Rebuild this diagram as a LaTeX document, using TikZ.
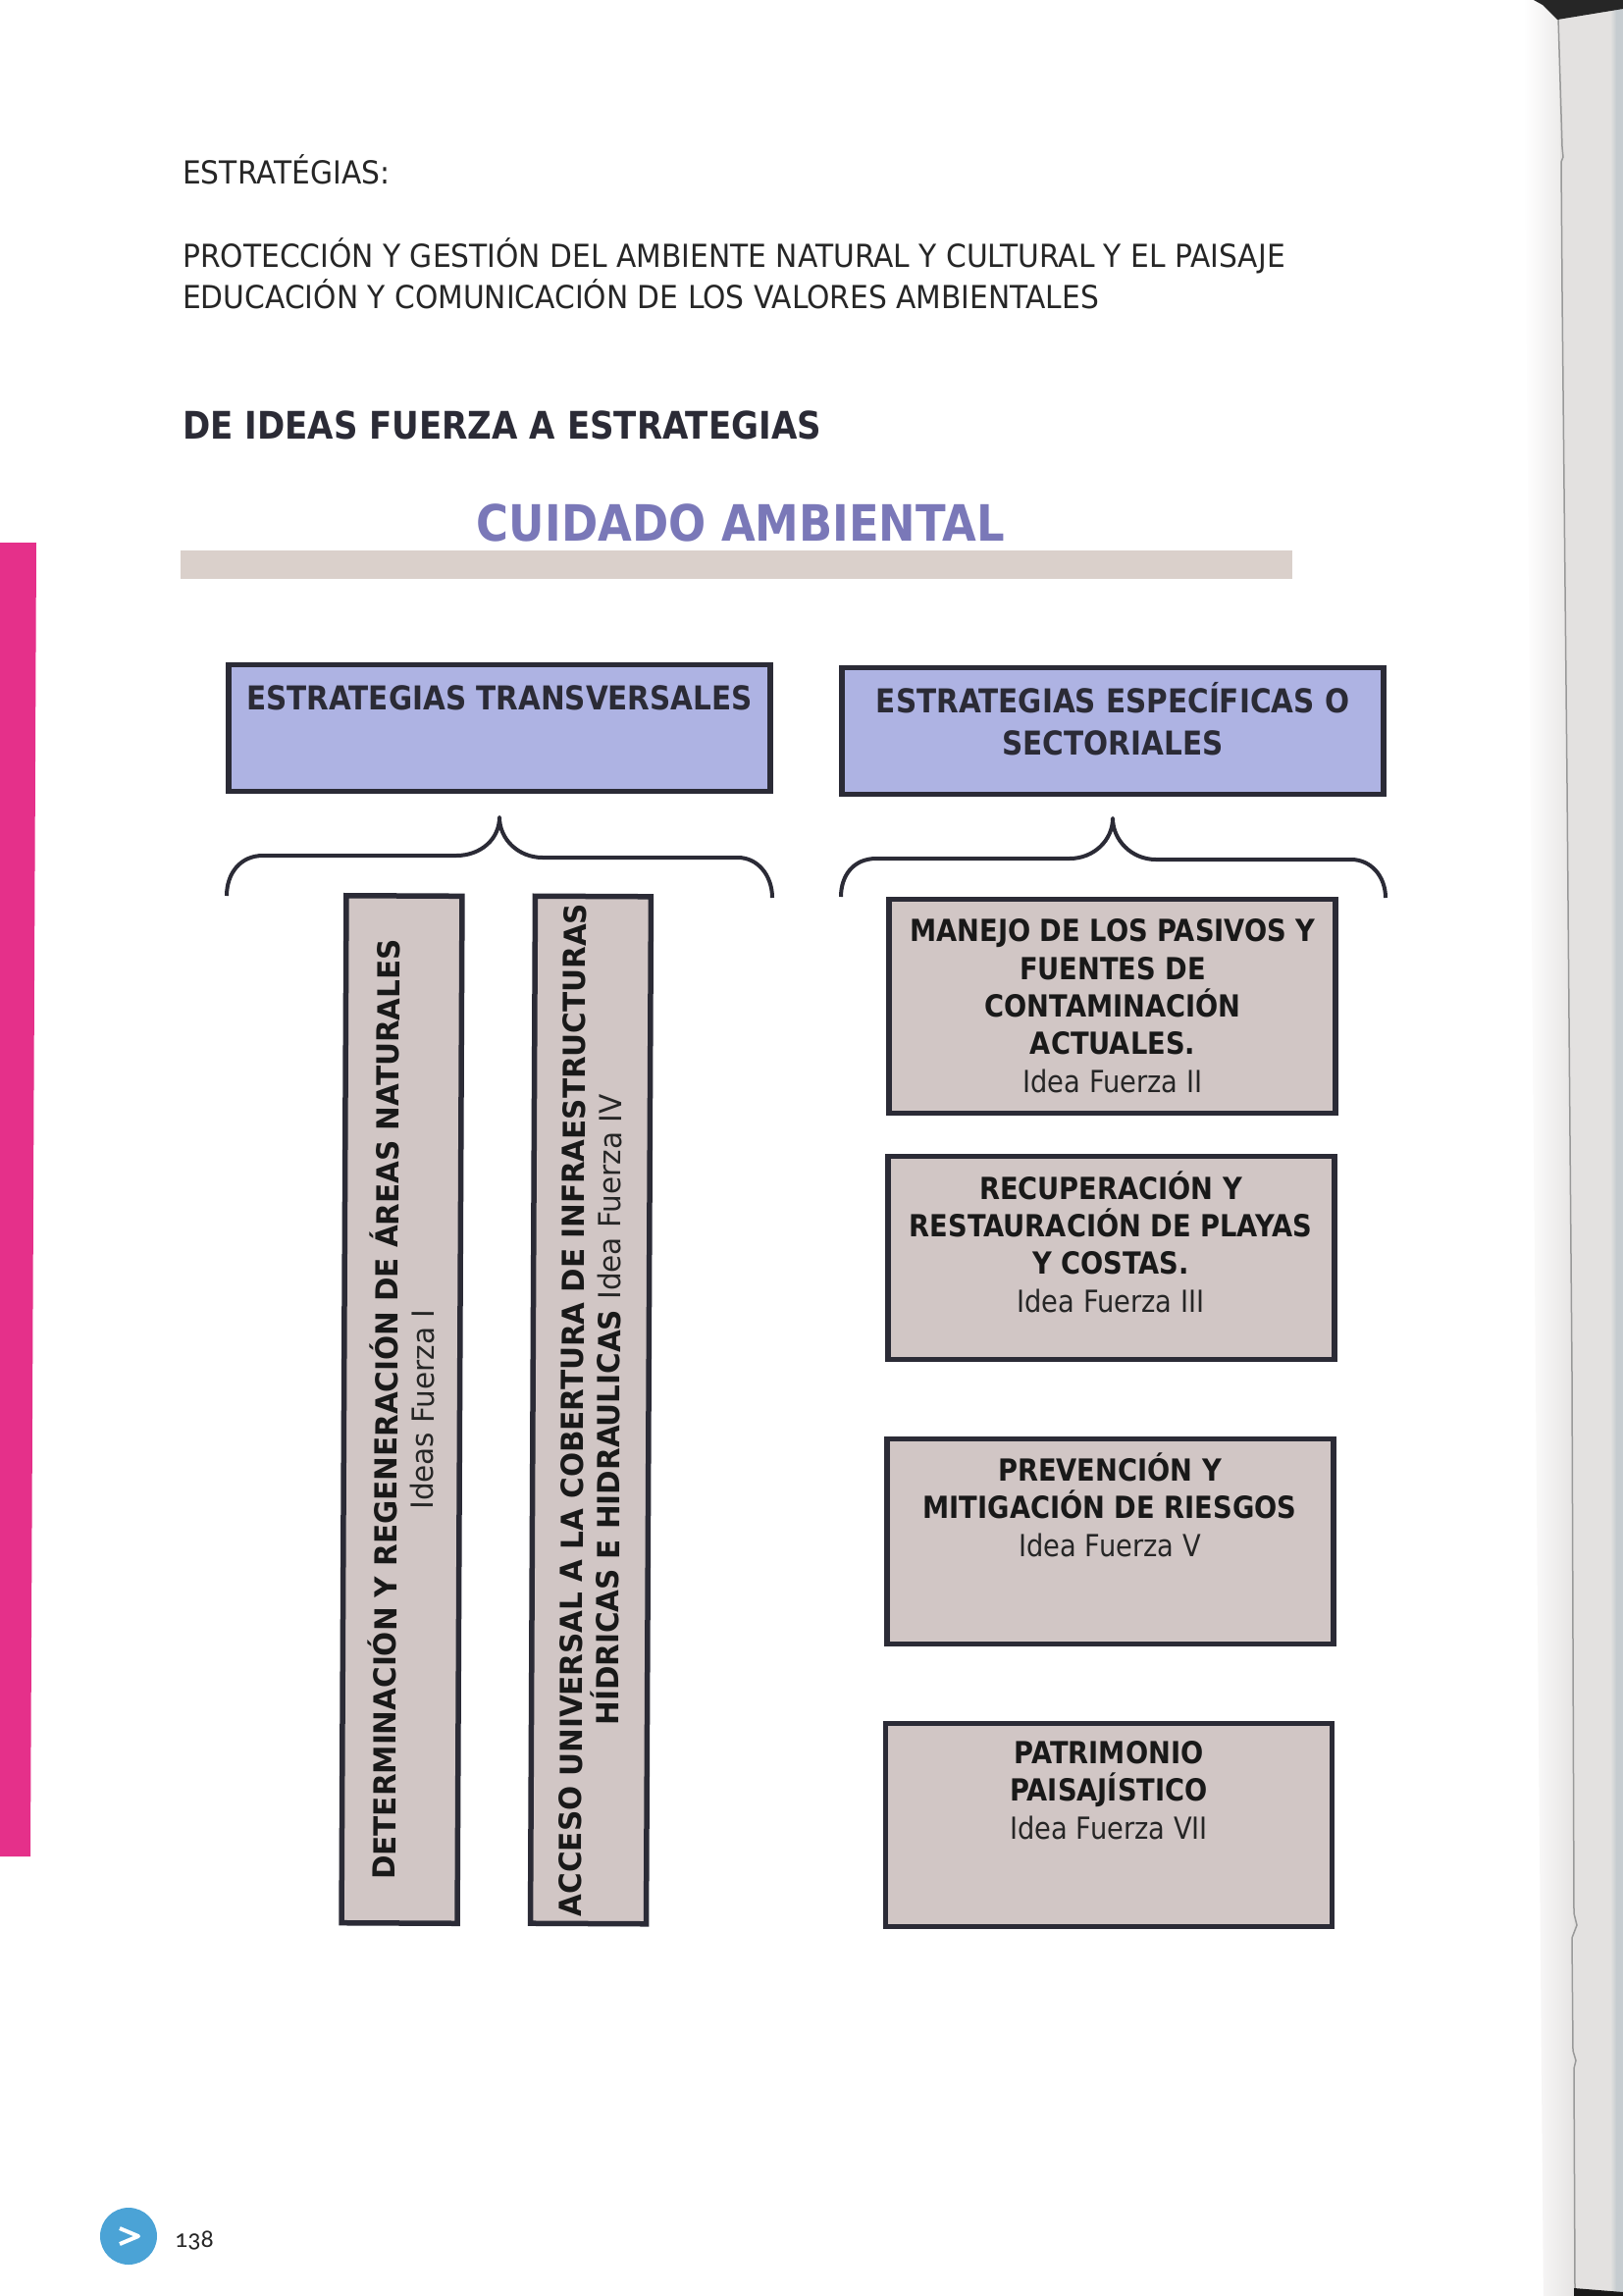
\documentclass[tikz,border=0pt]{standalone}
\usepackage{fontspec}
\setmainfont{DejaVu Sans}[FakeStretch=0.88]
\newfontfamily\widefont{DejaVu Sans}[FakeStretch=0.95]
\newfontfamily\bodyfont{DejaVu Sans}[FakeStretch=0.92]
\newfontfamily\pgfont[Numbers=OldStyle]{Carlito}
\definecolor{inkc}{HTML}{2B2B36}
\definecolor{bluec}{HTML}{AEB3E3}
\definecolor{beigec}{HTML}{D1C6C5}
\definecolor{barc}{HTML}{DAD0CB}
\definecolor{titlec}{HTML}{7A78B8}
\definecolor{pinkc}{HTML}{E5308A}
\definecolor{dotc}{HTML}{4BA3D6}
\definecolor{leafc}{HTML}{E3E1E0}
\definecolor{leafd}{HTML}{C6CCD0}
\newcommand{\idea}[1]{{\mdseries\color{black!85}#1}}
\tikzset{
  x=1pt,y=-1pt,
  bluebox/.style={draw=inkc,line width=5.5pt,fill=bluec,minimum width=552pt,minimum height=129pt,inner sep=0pt},
  greybox/.style={draw=inkc,line width=5.5pt,fill=beigec,inner sep=0pt,minimum width=455pt},
  tallbox/.style={draw=inkc,line width=5.5pt,fill=beigec,inner sep=0pt,minimum width=1047pt,minimum height=118pt,rotate=89.73,align=center,text=black!90,font=\widefont\fontsize{31}{37}\selectfont\bfseries},
  boxtext/.style={align=center,text=black!90,font=\fontsize{31}{38.3}\selectfont\bfseries,inner sep=0pt,anchor=base},
  headtext/.style={text=inkc,font=\fontsize{33.5}{43}\selectfont\bfseries,inner sep=0pt,anchor=base},
  plaintext/.style={anchor=base west,text=black!85,font=\bodyfont\fontsize{32.3}{41}\selectfont,inner sep=0pt},
  bracket/.style={draw=inkc,line width=4pt,line join=round}
}
\begin{document}
\begin{tikzpicture}
\useasboundingbox (0,0) rectangle (1654,2340);
\fill[white] (0,0) rectangle (1654,2340);
% page edge
\begin{scope}[xslant=-0.0085]
\shade[left color=white,right color=leafc] (1553,-10) rectangle (1590,2350);
\end{scope}
\fill[leafc] (1588,0) -- (1654,0) -- (1654,2340) -- (1604,2340) -- (1604,1900) -- (1602,1400) -- (1597,800) -- (1592,300) -- cycle;
\shade[left color=leafc,right color=leafd] (1641,0) rectangle (1647,2340);
\fill[leafd] (1647,0) rectangle (1654,2340);
\draw[black!40,line width=1.5pt] (1588,18) -- (1592,150) -- (1593,160) -- (1591,165) -- (1592,300) -- (1597,800) -- (1602,1400) -- (1604,1950) -- (1607,1962) -- (1602,1975) -- (1603,2090) -- (1606,2100) -- (1604,2108) -- (1605,2332);
\fill[black!85] (1563,0) -- (1572,5) -- (1587,20) -- (1654,9) -- (1654,0) -- cycle;
\fill[black!90] (1604,2332) -- (1654,2336) -- (1654,2340) -- (1604,2340) -- cycle;
% pink bar
\fill[pinkc] (0,553) -- (37,553) -- (31,1892) -- (0,1892) -- cycle;
% texts on top
\node[plaintext] (t1) at (186,187) {ESTRATÉGIAS:};
\node[plaintext] (t2) at (186,272) {PROTECCIÓN Y GESTIÓN DEL AMBIENTE NATURAL Y CULTURAL Y EL PAISAJE};
\node[plaintext] (t3) at (186,314) {EDUCACIÓN Y COMUNICACIÓN DE LOS VALORES AMBIENTALES};
\node[headtext,anchor=base west,font=\fontsize{38.7}{43}\selectfont\bfseries] (t4) at (186,447) {DE IDEAS FUERZA A ESTRATEGIAS};
\fill[barc] (184,561) rectangle (1317,590);
\node[inner sep=0pt,text=titlec,font=\fontsize{51}{54}\selectfont\bfseries] (title) at (755,533) {CUIDADO AMBIENTAL};
% header boxes
\node[bluebox] (b1) at (509,742) {};
\node[headtext] (b1t) at (509,723) {ESTRATEGIAS TRANSVERSALES};
\node[bluebox] (b2) at (1134,745) {};
\node[headtext,align=center] (b2t) at (1134,769) {ESTRATEGIAS ESPECÍFICAS O\\SECTORIALES};
% braces
\coordinate (la) at (231,913); \coordinate (lt) at (509,833); \coordinate (lb) at (787,915);
\coordinate (ra) at (857,914); \coordinate (rt) at (1134,834); \coordinate (rb) at (1412,915);
\draw[bracket] (la) .. controls (231,890) and (245,872) .. (268,872) -- (465,872) .. controls (490,872) and (509,855) .. (lt)
  .. controls (509,855) and (528,874) .. (553,874) -- (752,874) .. controls (772,874) and (787,892) .. (lb);
\draw[bracket] (ra) .. controls (857,892) and (870,875) .. (893,875) -- (1090,875) .. controls (1115,875) and (1134,856) .. (rt)
  .. controls (1134,856) and (1153,876) .. (1178,876) -- (1377,876) .. controls (1397,876) and (1412,893) .. (rb);
% tall boxes
\node[tallbox] (v1) at (409.5,1436.5) {DETERMINACIÓN Y REGENERACIÓN DE ÁREAS NATURALES\\\idea{Ideas Fuerza I}};
\node[tallbox] (v2) at (602,1437) {ACCESO UNIVERSAL A LA COBERTURA DE INFRAESTRUCTURAS\\HÍDRICAS E HIDRAULICAS \idea{Idea Fuerza IV}};
% right boxes
\node[greybox,minimum height=218pt] (r1) at (1133.5,1025.5) {};
\node[boxtext] (r1t) at (1134,1113) {MANEJO DE LOS PASIVOS Y\\FUENTES DE\\CONTAMINACIÓN\\ACTUALES.\\\idea{Idea Fuerza II}};
\node[greybox,minimum height=207pt] (r2) at (1132.5,1282) {};
\node[boxtext] (r2t) at (1132,1337) {RECUPERACIÓN Y\\RESTAURACIÓN DE PLAYAS\\Y COSTAS.\\\idea{Idea Fuerza III}};
\node[greybox,minimum height=209pt] (r3) at (1131.5,1571) {};
\node[boxtext] (r3t) at (1131,1586) {PREVENCIÓN Y\\MITIGACIÓN DE RIESGOS\\\idea{Idea Fuerza V}};
\node[greybox,minimum height=207pt] (r4) at (1130,1860) {};
\node[boxtext] (r4t) at (1130,1874) {PATRIMONIO\\PAISAJÍSTICO\\\idea{Idea Fuerza VII}};
% page marker
\node[circle,fill=dotc,minimum size=58pt,inner sep=0pt] (dot) at (131,2279) {};
\draw[white,line width=4pt,line join=round] ([shift={(-9,-8)}]dot.center) -- ([shift={(10,0)}]dot.center) -- ([shift={(-9,8)}]dot.center);
\node[inner sep=0pt,anchor=base west,font=\pgfont\fontsize{26}{26}\selectfont,text=black!85] (pg) at (178,2290) {138};
\end{tikzpicture}
\end{document}
